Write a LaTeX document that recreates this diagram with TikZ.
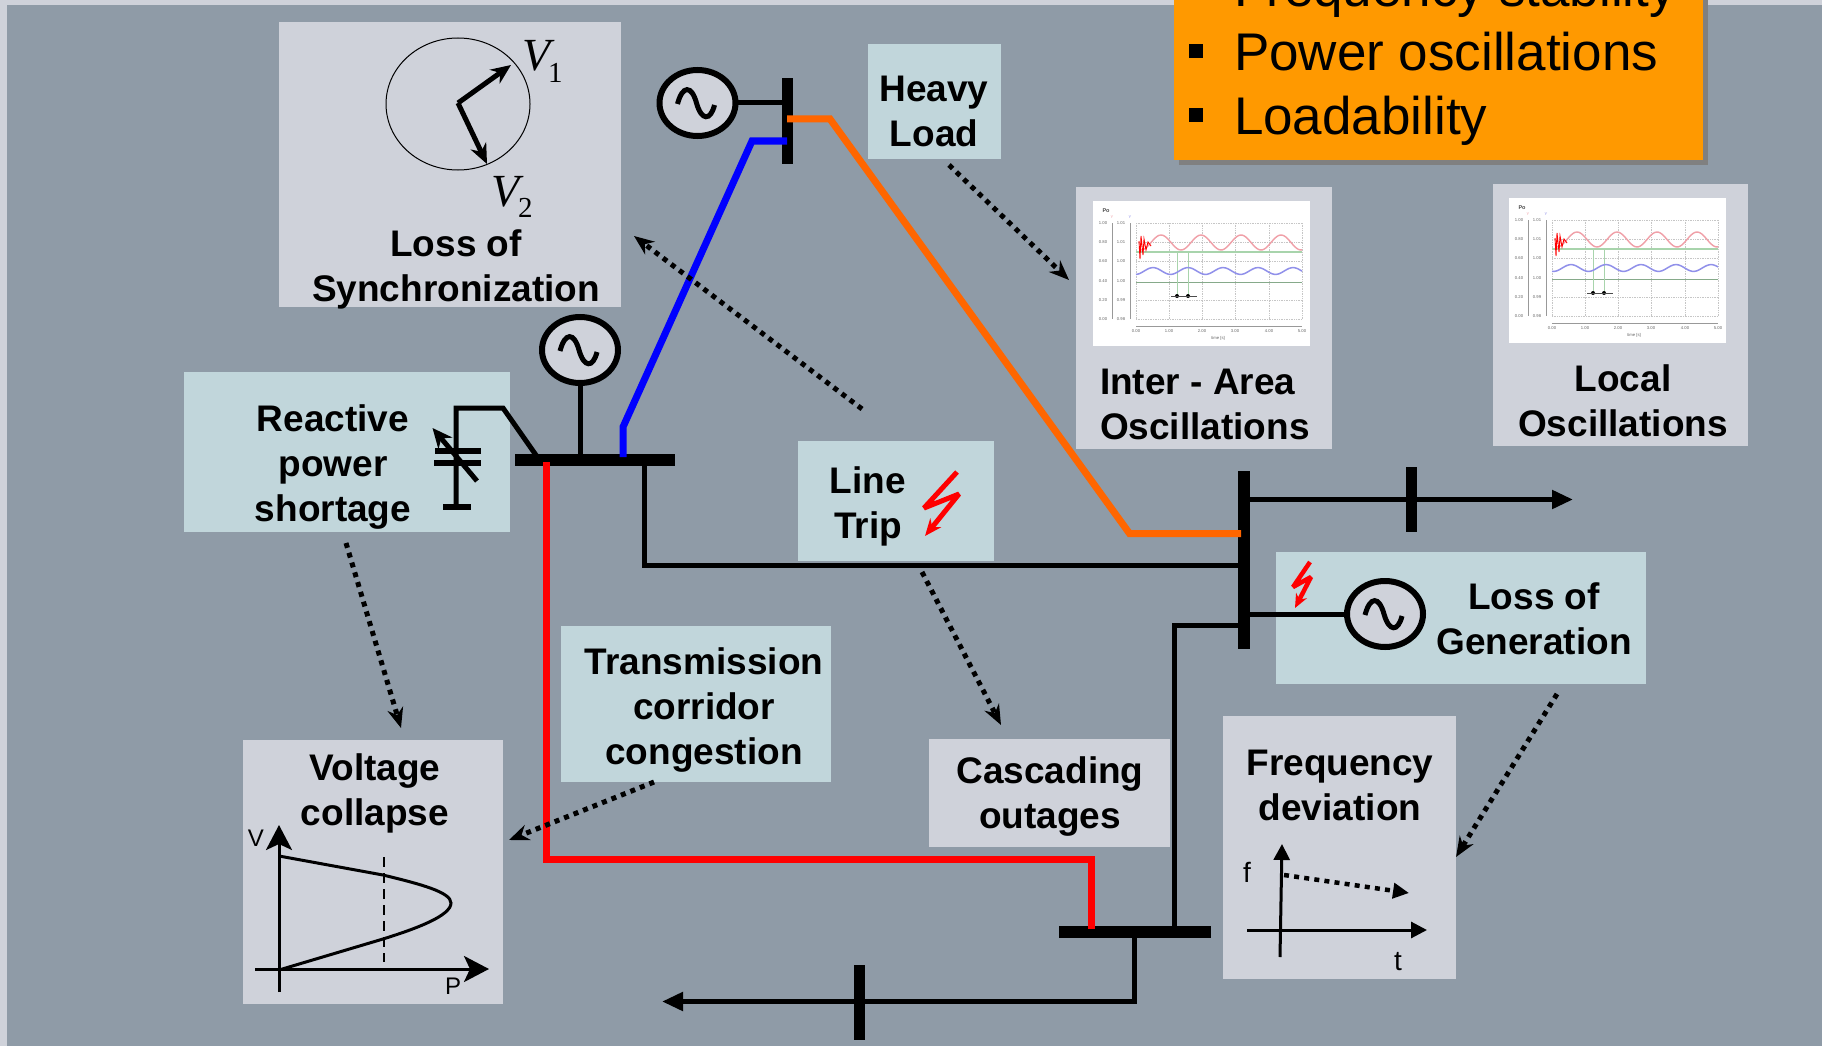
\documentclass[tikz,border=0pt]{standalone}
\usepackage{fontspec}
\setmainfont{Liberation Sans}
\newfontfamily\timesfam{Liberation Serif}
\usetikzlibrary{arrows.meta,shapes.geometric}
\definecolor{pageback}{HTML}{8F9BA7}
\definecolor{lightgrey}{HTML}{CFD2DA}
\definecolor{paleblue}{HTML}{C1D6DB}
\definecolor{warnorange}{HTML}{FF9900}
\definecolor{lineorange}{HTML}{FF6600}
\definecolor{plotred}{HTML}{F0A0A8}
\definecolor{plotblue}{HTML}{9090EA}
\definecolor{plotgreen}{HTML}{A8D4AC}
\tikzset{
  panelbase/.style={inner sep=0pt,outer sep=0pt,draw=none},
  greypanel/.style={panelbase,fill=lightgrey},
  bluepanel/.style={panelbase,fill=paleblue},
  boldlabel/.style={inner sep=0pt,outer sep=0pt,align=center,text=black,font=\fontsize{37}{45}\selectfont\bfseries},
  listlabel/.style={inner sep=0pt,outer sep=0pt,anchor=base west,text=black,font=\fontsize{53}{64}\selectfont},
  smalllabel/.style={inner sep=0pt,outer sep=0pt,text=black,font=\fontsize{24}{28}\selectfont},
  phasorname/.style={inner sep=0pt,outer sep=0pt,anchor=base west,text=black,font=\timesfam\fontsize{46}{50}\selectfont\itshape},
  phasorsub/.style={inner sep=0pt,outer sep=0pt,anchor=base west,text=black,font=\timesfam\fontsize{29}{32}\selectfont},
  generator/.style={ellipse,draw=black,fill=lightgrey,line width=6pt,inner sep=0pt,outer sep=0pt,minimum width=76pt,minimum height=66pt},
  busbar/.style={draw=none,fill=black,inner sep=0pt,outer sep=0pt},
  wire/.style={draw=black,line width=5pt,line join=miter},
  powerline/.style={line width=7pt,line join=miter},
  bigtip/.style={-{Triangle[length=21pt,width=18pt]}},
  effect/.style={draw=black,line width=5pt,dash pattern=on 5pt off 5.2pt,-{Stealth[length=20pt,width=16pt]}},
  flash/.style={draw=red,line join=bevel}
}
\newcommand\panel[6]{%
  \pgfmathsetmacro\panelw{#5-#3}\pgfmathsetmacro\panelh{#6-#4}%
  \node[#2,minimum width=\panelw pt,minimum height=\panelh pt,anchor=north west] (#1) at (#3,#4) {};}
\newcommand\genwave[1]{%
  \begin{scope}[shift={(#1.center)}]
    \draw[line width=5pt] (-20,1) .. controls (-15,-18) and (-6,-18) .. (-1,0) .. controls (4,18) and (13,18) .. (17,2);
  \end{scope}}
\newcommand\oscplot[5]{% x, y, red peak, blue peak, name
  \begin{scope}[shift={(#1,#2)}]
    \fill[white] (0,0) rectangle (217,145);
    \foreach \gy in {22,41,60,99,118}{\draw[gray!45,line width=.7pt,densely dotted] (43,\gy) -- (209,\gy);}
    \foreach \gx in {43,76,109,142,176,209}{\draw[gray!45,line width=.7pt,densely dotted] (\gx,22) -- (\gx,118);}
    \draw[plotgreen,line width=1.2pt] (43,51) -- (209,51);
    \draw[plotgreen!80!black,line width=1pt] (43,81) -- (209,81);
    \draw[plotgreen,line width=.5pt] (84,50) -- (84,95) (95,50) -- (95,95);
    \draw[gray!80,line width=1pt] (19,22) -- (19,118) (37,22) -- (37,118) (43,125) -- (209,125);
    \draw[plotred,line width=1.4pt] plot[domain=48:209,samples=90,smooth] (\x,{41.5-7.5*cos(9*(\x-#3))});
    \draw[plotblue,line width=1.5pt] plot[domain=43:209,samples=90,smooth] (\x,{70-3.4*cos(10.2857*(\x-#4))});
    \draw[red,line width=.9pt] (46,40) -- (47,58) -- (48,35) -- (50,54) -- (51,38) -- (53,49) -- (55,41) -- (58,45);
    \fill[black] (84,95) circle (2) (95,95) circle (2);
    \draw[black!70,line width=.5pt] (78,95) -- (104,95);
    \node[font=\fontsize{5.5}{6}\selectfont\bfseries,text=black!70,inner sep=0pt] (#5po) at (13,10) {Po};
    \node[font=\fontsize{4}{5}\selectfont,text=plotred,inner sep=0pt] (#5pr) at (19,16) {Y};
    \node[font=\fontsize{4}{5}\selectfont,text=plotblue,inner sep=0pt] (#5pb) at (37,16) {Y};
    \foreach \ty/\ta/\tb in {22/1.00/1.01,41/0.80/1.01,60/0.60/1.00,80/0.40/1.00,99/0.20/0.99,118/0.00/0.98}{
      \node[font=\fontsize{4.2}{5}\selectfont,text=black!60,inner sep=0pt] at (10,\ty) {\ta};
      \node[font=\fontsize{4.2}{5}\selectfont,text=black!60,inner sep=0pt] at (28,\ty) {\tb};}
    \foreach \tx/\tv in {43/0.00,76/1.00,109/2.00,142/3.00,176/4.00,209/5.00}{
      \node[font=\fontsize{4.2}{5}\selectfont,text=black!60,inner sep=0pt] at (\tx,130) {\tv};}
    \node[font=\fontsize{4.2}{5}\selectfont,text=black!60,inner sep=0pt] (#5tm) at (125,137) {time [s]};
  \end{scope}}
\begin{document}
\begin{tikzpicture}[x=1pt,y=-1pt]
\useasboundingbox (0,0) rectangle (1822,1046);
\clip (0,0) rectangle (1822,1046);
\fill[lightgrey] (0,0) rectangle (1822,1046);
\fill[pageback] (7,5) rectangle (1822,1046);

% panels
\panel{syncbox}{greypanel}{279}{22}{621}{307}
\panel{loadbox}{bluepanel}{868}{44}{1001}{159}
\panel{interbox}{greypanel}{1076}{187}{1332}{449}
\panel{localbox}{greypanel}{1493}{184}{1748}{446}
\panel{reactbox}{bluepanel}{184}{372}{510}{532}
\panel{tripbox}{bluepanel}{798}{441}{994}{561}
\panel{corrbox}{bluepanel}{561}{626}{831}{782}
\panel{voltbox}{greypanel}{243}{740}{503}{1004}
\panel{cascbox}{greypanel}{929}{739}{1170}{847}
\panel{freqbox}{greypanel}{1223}{716}{1456}{979}
\panel{genbox}{bluepanel}{1276}{552}{1646}{684}

% orange list
\fill[gray] (1179,-10) rectangle (1708,165);
\panel{listbox}{panelbase,fill=warnorange}{1174}{-10}{1703}{160}
\node[listlabel] (l1) at (1234,7) {Frequency stability};
\node[listlabel] (l2) at (1234,71) {Power oscillations};
\node[listlabel] (l3) at (1234,135) {Loadability};
\node[busbar,minimum width=14pt,minimum height=14pt] (b2) at (1196,51) {};
\node[busbar,minimum width=14pt,minimum height=14pt] (b3) at (1196,115) {};

% plots
\oscplot{1093}{201}{68}{60}{pa}
\oscplot{1509}{198}{68}{62}{pb}

% busbars
\node[busbar,minimum width=11pt,minimum height=86pt] (bustop) at (787,121) {};
\node[busbar,minimum width=160pt,minimum height=12pt] (busmid) at (595,460) {};
\node[busbar,minimum width=12pt,minimum height=178pt] (busright) at (1244,560) {};
\node[busbar,minimum width=152pt,minimum height=12pt] (busbot) at (1135,932) {};
\node[busbar,minimum width=11pt,minimum height=65pt] (barload) at (1411,499) {};
\node[busbar,minimum width=11pt,minimum height=75pt] (barbot) at (859,1002) {};

% generators
\node[generator] (gena) at (697.5,103) {};
\node[generator] (genb) at (580,350) {};
\node[generator] (genc) at (1385,614) {};

% black connectors
\draw[wire] (gena.east) -- (gena.east -| bustop.west);
\draw[wire] (genb.south) -- (genb.south |- busmid.north);
\draw[wire] (genc.west) -- (genc.west -| busright.east);
\coordinate (capa) at (538,458);
\coordinate (capb) at (503,408);
\coordinate (capc) at (456,408);
\coordinate (capd) at (456,507);
\draw[wire] (capa) -- (capb) -- (capc) -- (capd);
\node[busbar,minimum width=46pt,minimum height=5.5pt] (plateup) at (458,451) {};
\node[busbar,minimum width=47pt,minimum height=5.5pt] (platedn) at (457.5,463) {};
\node[busbar,minimum width=28pt,minimum height=6pt] (capgnd) at (457,507) {};
\coordinate (cvara) at (477,481);
\coordinate (cvarb) at (432.5,428);
\draw[line width=5pt,-{Stealth[length=20pt,width=18pt]}] (cvara) -- (cvarb);

\coordinate (midd) at (644.5,565);
\draw[wire] (midd |- busmid.south) -- (midd) -- (midd -| busright.west);
\coordinate (loadend) at (1573,499.5);
\draw[wire,bigtip] (loadend -| busright.east) -- (loadend);
\coordinate (rbk) at (1174,625);
\draw[wire] (rbk -| busright.west) -- (rbk) -- (rbk |- busbot.north);
\coordinate (botk) at (1134,1001.5);
\coordinate (botend) at (662,1001.5);
\draw[wire,bigtip] (botk |- busbot.south) -- (botk) -- (botend);

% coloured lines
\coordinate (oa) at (787,119);
\coordinate (ob) at (830,119);
\coordinate (oc) at (1129.5,533.5);
\coordinate (od) at (1241,533.5);
\draw[powerline,lineorange] (oa) -- (ob) -- (oc) -- (od);
\coordinate (ba) at (787,141);
\coordinate (bb) at (752,141);
\coordinate (bc) at (623,427);
\coordinate (bd) at (623,457);
\draw[powerline,blue] (ba) -- (bb) -- (bc) -- (bd);
\coordinate (ra) at (546.5,462);
\coordinate (rb) at (546.5,859);
\coordinate (rc) at (1091,859);
\coordinate (rd) at (1091,929);
\draw[powerline,red] (ra) -- (rb) -- (rc) -- (rd);

\genwave{gena}
\genwave{genb}
\genwave{genc}

% flashes
\coordinate (fa) at (957,472);
\coordinate (fb) at (924,508);
\coordinate (fc) at (959,494);
\coordinate (fd) at (925,536);
\draw[flash,line width=5pt,-{Stealth[length=17pt,width=14pt]}] (fa) -- (fb) -- (fc) -- (fd);
\coordinate (ga) at (1310,562);
\coordinate (gb) at (1293,587);
\coordinate (gc) at (1311,577);
\coordinate (gd) at (1295,608);
\draw[flash,line width=4.5pt,-{Stealth[length=14pt,width=12pt]}] (ga) -- (gb) -- (gc) -- (gd);

% phasors
\node[ellipse,draw=black,line width=1pt,inner sep=0pt,outer sep=0pt,minimum width=144pt,minimum height=132pt] (phcircle) at (458,104) {};
\coordinate (pho) at (458,103);
\coordinate (pha) at (511,65);
\coordinate (phb) at (487,164);
\draw[line width=5pt,-{Stealth[length=20pt,width=17pt]}] (pho) -- (pha);
\draw[line width=5pt,line join=miter,-{Stealth[length=20pt,width=17pt]}] (pho) -- (phb);
\node[phasorname] (v1) at (522,71) {V};
\node[phasorsub] (v1s) at (548,83) {1};
\node[phasorname] (v2) at (491,206) {V};
\node[phasorsub] (v2s) at (518,217) {2};

% PV plot
\coordinate (vbot) at (279,992);
\coordinate (vtop) at (279,825);
\coordinate (pleft) at (255,969);
\coordinate (pright) at (489,969);
\draw[line width=3pt,-{Stealth[length=25pt,width=26pt,inset=6pt]}] (vbot) -- (vtop);
\draw[line width=3pt,-{Stealth[length=25pt,width=26pt,inset=6pt]}] (pleft) -- (pright);
\coordinate (pva) at (279,856);
\coordinate (pvb) at (383,875);
\coordinate (pvc) at (451,903);
\coordinate (pvd) at (383,939);
\coordinate (pve) at (279,970);
\draw[line width=3pt] (pva) -- (pvb) .. controls (420,884) and (451,892) .. (pvc) .. controls (451,916) and (415,929) .. (pvd) -- (pve);
\coordinate (dsa) at (384,857);
\coordinate (dsb) at (384,962);
\draw[line width=2.5pt,dash pattern=on 10pt off 6pt] (dsa) -- (dsb);
\node[smalllabel] (vlab) at (256,838) {V};
\node[smalllabel] (plab) at (453,986) {P};

% f-t plot
\coordinate (fbot) at (1280,957);
\coordinate (ftop) at (1282,844);
\coordinate (tleft) at (1247,930);
\coordinate (tright) at (1427,930);
\draw[line width=3pt,-{Triangle[length=16pt,width=16pt]}] (fbot) -- (ftop);
\draw[line width=3pt,-{Triangle[length=16pt,width=16pt]}] (tleft) -- (tright);
\node[smalllabel,font=\fontsize{28}{30}\selectfont] (flab) at (1247,872) {f};
\node[smalllabel,font=\fontsize{28}{30}\selectfont] (tlab) at (1398,962) {t};
\coordinate (fda) at (1284,875);
\coordinate (fdb) at (1409,893);
\draw[line width=4.5pt,dash pattern=on 5pt off 5.2pt,-{Triangle[length=16pt,width=15pt]}] (fda) -- (fdb);

% effect arrows
\coordinate (ea1) at (949,165);  \coordinate (ea2) at (1069,280);
\coordinate (eb1) at (862,409);  \coordinate (eb2) at (634,236);
\coordinate (ec1) at (922,572);  \coordinate (ec2) at (1001,725);
\coordinate (ed1) at (346,543);  \coordinate (ed2) at (401,728);
\coordinate (ee1) at (654,782);  \coordinate (ee2) at (509,840);
\coordinate (ef1) at (1557,694); \coordinate (ef2) at (1456,857);
\draw[effect] (ea1) -- (ea2);
\draw[effect] (eb1) -- (eb2);
\draw[effect] (ec1) -- (ec2);
\draw[effect] (ed1) -- (ed2);
\draw[effect] (ee1) -- (ee2);
\draw[effect] (ef1) -- (ef2);

% labels
\node[boldlabel] (tsync) at (456,269) {Loss of\\Synchronization};
\node[boldlabel] (tload) at (934,111) {Heavy\\Load};
\node[boldlabel,align=left,anchor=west] (tinter) at (1100,404) {Inter - Area\\Oscillations};
\node[boldlabel] (tlocal) at (1623,401) {Local\\Oscillations};
\node[boldlabel] (treact) at (333,467.5) {Reactive\\power\\shortage};
\node[boldlabel] (ttrip) at (868,506.5) {Line\\Trip};
\node[boldlabel] (tcorr) at (704,710) {Transmission\\corridor\\congestion};
\node[boldlabel] (tvolt) at (375,793.5) {Voltage\\collapse};
\node[boldlabel] (tcasc) at (1050,797) {Cascading\\outages};
\node[boldlabel] (tfreq) at (1340,785) {Frequency\\deviation};
\node[boldlabel] (tgen) at (1534,619) {Loss of\\Generation};
\end{tikzpicture}
\end{document}
